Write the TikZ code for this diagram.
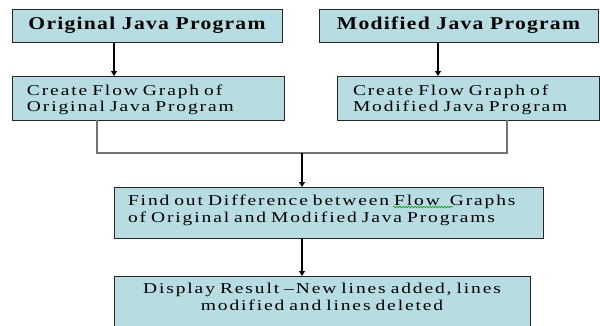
\documentclass[tikz,border=0pt]{standalone}
\usepackage{fontspec}
\setmainfont{Liberation Serif}
\newfontfamily\boxfont[FakeStretch=1.3,LetterSpace=12.5]{Liberation Serif}
\newfontfamily\titlefont[FakeStretch=1.2,LetterSpace=7]{Liberation Serif}
\usetikzlibrary{arrows.meta,decorations.pathmorphing}
\definecolor{boxfill}{RGB}{183,221,226}
\begin{document}
\begin{tikzpicture}[x=1pt,y=-1pt,
  box/.style={draw=black!85, line width=1pt, fill=boxfill, inner ysep=0pt, outer sep=0pt},
  titlebox/.style={box, font=\titlefont\bfseries\fontsize{18}{22}\selectfont},
  bodybox/.style={box, anchor=north, font=\boxfont\fontsize{15}{16}\selectfont},
  widebody/.style={box, anchor=north, font=\boxfont\fontsize{15}{17.5}\selectfont},
  arr/.style={draw=black, line width=1.1pt, -{Triangle[width=6pt,length=5pt]}},
  conn/.style={draw=black!55, line width=1.3pt},
  spell/.style={draw=green!60!black, line width=0.6pt, decorate, decoration={snake, amplitude=0.8pt, segment length=3pt}}]
\useasboundingbox (0,0) rectangle (600,325);
\clip (0,0) rectangle (600,325);
\node[titlebox, minimum width=270pt, minimum height=33pt] (b1) at (147,25.5) {Original Java Program};
\node[titlebox, minimum width=279pt, minimum height=33pt] (b2) at (458.5,25.5) {Modified Java Program};
\node[bodybox, text height=19pt, text depth=25pt, inner xsep=15pt, text width=242pt, align=left] (b3) at (148,76) {Create Flow Graph of\\Original Java Program};
\node[bodybox, text height=19pt, text depth=25pt, inner xsep=16pt, text width=230pt, align=left] (b4) at (468,76) {Create Flow Graph of\\Modified Java Program};
\node[widebody, text height=18pt, text depth=33pt, inner xsep=14pt, text width=401pt, align=left] (b5) at (328.5,187) {Find out Difference between Flow~ Graphs\\of Original and Modified Java Programs};
\node[widebody, text height=17pt, text depth=40pt, inner xsep=10pt, text width=396pt, align=center] (b6) at (322,276) {Display Result –New lines added, lines\\modified and lines deleted};
\coordinate (j) at (302,153);
\draw[arr] ([xshift=-33pt]b1.south) -- ([xshift=-33pt]b1.south |- b3.north);
\draw[arr] ([xshift=-20.5pt]b2.south) -- ([xshift=-20.5pt]b2.south |- b4.north);
\draw[conn] ([xshift=-51pt]b3.south) |- (j) -| ([xshift=39pt]b4.south);
\draw[arr] (j) -- (j |- b5.north);
\draw[arr] ([xshift=-26.5pt]b5.south) -- ([xshift=-26.5pt]b5.south |- b6.north);
\draw[spell] ([shift={(279,20)}]b5.north west) -- ++(60,0);
\end{tikzpicture}
\end{document}
